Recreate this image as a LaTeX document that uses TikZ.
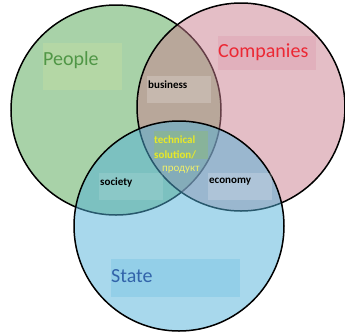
\documentclass[tikz,border=0pt]{standalone}
\usepackage{fontspec}
\setmainfont{Carlito}
\usetikzlibrary{positioning}
\definecolor{peoplefill}{RGB}{81,165,81}
\definecolor{companyfill}{RGB}{201,125,141}
\definecolor{statefill}{RGB}{81,177,217}
\definecolor{peopletext}{RGB}{80,150,70}
\definecolor{companytext}{RGB}{236,40,52}
\definecolor{statetext}{RGB}{50,100,170}
\definecolor{techtext}{RGB}{232,232,40}

\begin{document}
\begin{tikzpicture}[x=1pt,y=-1pt,
  set/.style={circle,draw=black,line width=1.5pt,minimum size=210pt,inner sep=0pt,fill opacity=0.5},
  tag box/.style={rectangle,inner sep=0pt,anchor=north west},
  big label/.style={font=\fontsize{20}{22}\selectfont,inner sep=0pt,anchor=west},
  small label/.style={font=\bfseries\fontsize{11}{12}\selectfont,inner sep=0pt,anchor=west}]
\useasboundingbox (0,0) rectangle (345,333);

% the three sets
\node[set,fill=peoplefill] (people) at (116,110) {};
\node[set,fill=companyfill,minimum size=208pt] (companies) at (241,107) {};
\node[set,fill=statefill] (state) at (179,226) {};

% label boxes
\node[tag box,fill=yellow!40,fill opacity=0.15,minimum width=79pt,minimum height=47pt] (people box) at (43,43) {};
\node[tag box,fill=purple,fill opacity=0.07,minimum width=98pt,minimum height=34pt] (companies box) at (218,36) {};
\node[tag box,fill=white,fill opacity=0.2,minimum width=64pt,minimum height=27pt] (business box) at (147,76) {};
\node[tag box,fill=yellow!60!green,fill opacity=0.2,minimum width=54pt,minimum height=28pt] (tech box) at (154,131) {};
\node[tag box,fill=white,fill opacity=0.12,minimum width=64pt,minimum height=27pt] (society box) at (99,173) {};
\node[tag box,fill=white,fill opacity=0.2,minimum width=64pt,minimum height=27pt] (economy box) at (208,173) {};
\node[tag box,fill=cyan!70!teal,fill opacity=0.15,minimum width=129pt,minimum height=38pt] (state box) at (111,259) {};

% labels
\node[big label,text=peopletext] (people label) at (43,60) {People};
\node[big label,text=companytext] (companies label) at (218,52) {Companies};
\node[big label,text=statetext] (state label) at (111,276) {State};
\node[small label] (business) at (148,85) {business};
\node[small label] (society) at (100,182) {society};
\node[small label] (economy) at (209,182) {economy};
\node[small label,text=techtext] (tech1) at (154,140) {technical};
\node[small label,text=techtext] (tech2) at (154,155) {solution/};
\node[inner sep=0pt,anchor=west,font=\fontsize{11}{12}\selectfont,text=techtext!70!white] (tech3) at (162,170) {продукт};
\end{tikzpicture}
\end{document}
